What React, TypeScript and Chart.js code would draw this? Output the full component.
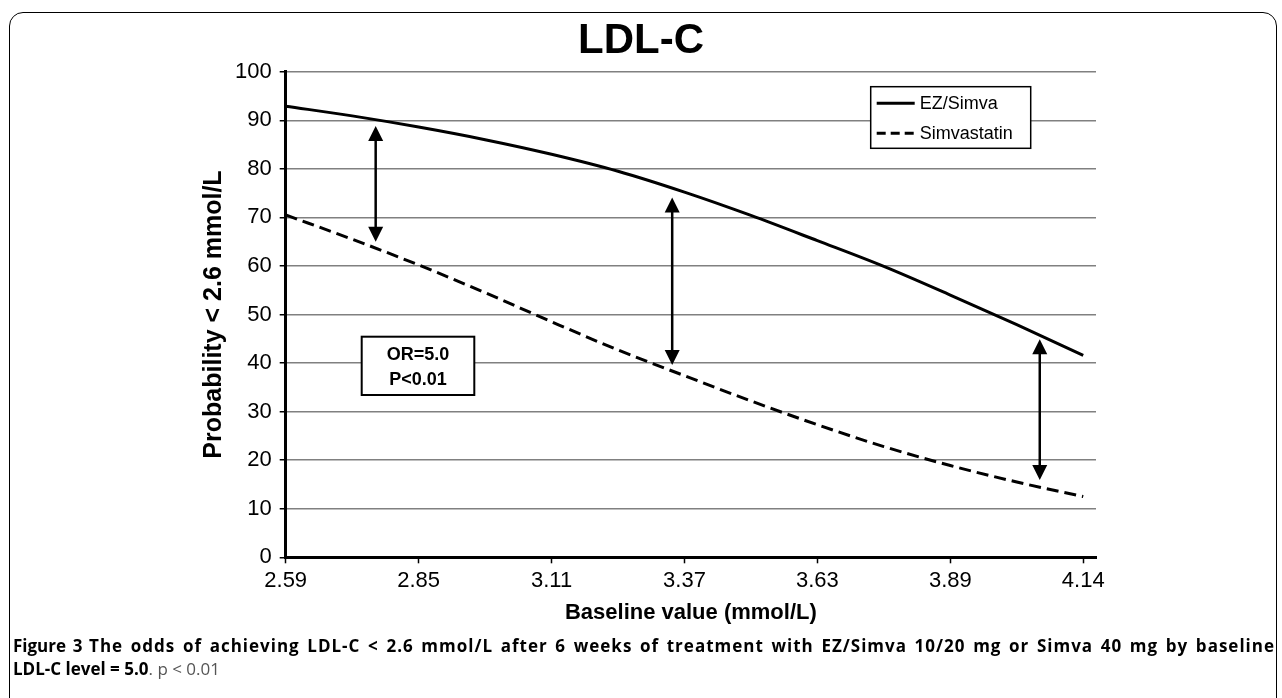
import React, { useEffect, useRef } from 'react';
import { Chart, registerables } from 'chart.js';

Chart.register(...registerables);

// ---------- data ----------
const CHART_TITLE = 'LDL-C';
const X_TITLE = 'Baseline value (mmol/L)';
const Y_TITLE = 'Probability < 2.6 mmol/L';
const X_TICK_VALUES = [2.59, 2.85, 3.11, 3.37, 3.63, 3.89, 4.15];
const X_TICK_LABELS = ['2.59', '2.85', '3.11', '3.37', '3.63', '3.89', '4.14'];
const BASELINE = [2.59, 2.72, 2.85, 2.98, 3.11, 3.24, 3.37, 3.5, 3.63, 3.76, 3.89, 4.02, 4.15];
const EZ_SIMVA = [92.9, 90.9, 88.6, 86.0, 83.0, 79.5, 75.2, 70.4, 65.2, 59.9, 54.0, 47.9, 41.6];
const SIMVASTATIN = [70.5, 65.5, 60.2, 54.5, 48.5, 42.7, 37.4, 32.2, 27.3, 22.8, 18.9, 15.5, 12.5];
const SERIES_NAMES = ['EZ/Simva', 'Simvastatin'];
const ARROW_X = [2.766, 3.346, 4.065];
const ARROW_TOP = [88.8, 74.1, 44.9];
const ARROW_BOTTOM = [65.0, 39.6, 15.9];
const STATS_LINES = ['OR=5.0', 'P<0.01'];

const FONT = "'Liberation Sans', Arial, Helvetica, sans-serif";

const overlayPlugin = {
  id: 'overlay',
  afterDatasetsDraw(chart: any) {
    const { ctx, chartArea: a, scales } = chart;
    const x = scales.x;
    const y = scales.y;
    ctx.save();
    // double-headed arrows
    ctx.strokeStyle = '#000';
    ctx.fillStyle = '#000';
    ctx.lineWidth = 2.5;
    const hl = 15;
    const hw = 7.5;
    ARROW_X.forEach((xv, i) => {
      const px = x.getPixelForValue(xv);
      const t = y.getPixelForValue(ARROW_TOP[i]);
      const b = y.getPixelForValue(ARROW_BOTTOM[i]);
      ctx.beginPath();
      ctx.moveTo(px, t + hl - 1);
      ctx.lineTo(px, b - hl + 1);
      ctx.stroke();
      ctx.beginPath();
      ctx.moveTo(px, t);
      ctx.lineTo(px - hw, t + hl);
      ctx.lineTo(px + hw, t + hl);
      ctx.closePath();
      ctx.fill();
      ctx.beginPath();
      ctx.moveTo(px, b);
      ctx.lineTo(px - hw, b - hl);
      ctx.lineTo(px + hw, b - hl);
      ctx.closePath();
      ctx.fill();
    });

    // stats box
    const sx = a.left + 76;
    const sy = a.top + 265;
    const sw = 112.6;
    const sh = 58.3;
    ctx.fillStyle = '#fff';
    ctx.fillRect(sx, sy, sw, sh);
    ctx.lineWidth = 2;
    ctx.strokeStyle = '#000';
    ctx.strokeRect(sx, sy, sw, sh);
    ctx.fillStyle = '#000';
    ctx.font = `bold 18px ${FONT}`;
    ctx.textAlign = 'center';
    ctx.textBaseline = 'middle';
    ctx.fillText(STATS_LINES[0], sx + sw / 2, sy + 18.5);
    ctx.fillText(STATS_LINES[1], sx + sw / 2, sy + 43.5);

    // legend
    const lx = a.left + 585;
    const ly = a.top + 15;
    const lw = 160;
    const lh = 61.6;
    ctx.fillStyle = '#fff';
    ctx.fillRect(lx, ly, lw, lh);
    ctx.lineWidth = 1.5;
    ctx.strokeStyle = '#000';
    ctx.strokeRect(lx, ly, lw, lh);
    const rows = [ly + 16.6, ly + 46.6];
    chart.data.datasets.forEach((ds: any, i: number) => {
      ctx.beginPath();
      ctx.lineWidth = 3;
      ctx.setLineDash(i === 0 ? [] : [9, 5]);
      ctx.moveTo(lx + 6, rows[i]);
      ctx.lineTo(lx + 44, rows[i]);
      ctx.stroke();
      ctx.setLineDash([]);
      ctx.fillStyle = '#000';
      ctx.font = `18px ${FONT}`;
      ctx.textAlign = 'left';
      ctx.textBaseline = 'middle';
      ctx.fillText(ds.label, lx + 49, rows[i] + 1);
    });

    // chart title, centred on the whole figure
    ctx.fillStyle = '#000';
    ctx.font = `bold 42px ${FONT}`;
    ctx.textAlign = 'center';
    ctx.textBaseline = 'middle';
    ctx.fillText(CHART_TITLE, chart.width / 2, 41);
    ctx.restore();
  },
};

export default function App() {
  const canvasRef = useRef<HTMLCanvasElement | null>(null);

  useEffect(() => {
    if (!canvasRef.current) return;
    Chart.defaults.font.family = FONT;
    const chart = new Chart(canvasRef.current, {
      type: 'line',
      data: {
        datasets: [
          {
            label: SERIES_NAMES[0],
            data: BASELINE.map((b, i) => ({ x: b, y: EZ_SIMVA[i] })),
            borderColor: '#000',
            borderWidth: 3,
            pointRadius: 0,
            cubicInterpolationMode: 'monotone',
          },
          {
            label: SERIES_NAMES[1],
            data: BASELINE.map((b, i) => ({ x: b, y: SIMVASTATIN[i] })),
            borderColor: '#000',
            borderWidth: 3,
            borderDash: [12, 6],
            pointRadius: 0,
            cubicInterpolationMode: 'monotone',
          },
        ],
      },
      options: {
        animation: false,
        responsive: true,
        maintainAspectRatio: false,
        layout: { padding: { left: 199, right: 186, top: 71.7, bottom: 13.8 } },
        plugins: {
          legend: { display: false },
          tooltip: { enabled: false },
          title: { display: false },
        },
        scales: {
          x: {
            type: 'linear',
            min: 2.59,
            max: 4.175,
            afterBuildTicks: (scale: any) => {
              scale.ticks = X_TICK_VALUES.map((v) => ({ value: v }));
            },
            afterFit: (scale: any) => {
              scale.height = 68.9;
            },
            ticks: {
              color: '#000',
              font: { size: 22, family: FONT },
              padding: 4,
              maxRotation: 0,
              autoSkip: false,
              callback: (_v: any, i: number) => X_TICK_LABELS[i],
            },
            grid: {
              display: true,
              drawOnChartArea: false,
              drawTicks: true,
              tickLength: 6,
              tickColor: '#000',
              tickWidth: 1.5,
            },
            border: { display: true, color: '#000', width: 3 },
            title: {
              display: true,
              text: X_TITLE,
              color: '#000',
              font: { size: 22, weight: 'bold', family: FONT, lineHeight: 1.2 },
              padding: 0,
            },
          },
          y: {
            min: 0,
            max: 100,
            afterFit: (scale: any) => {
              scale.width = 86.7;
            },
            ticks: {
              stepSize: 10,
              color: '#000',
              font: { size: 22, family: FONT },
              padding: 8,
            },
            grid: {
              color: '#808080',
              lineWidth: 1.5,
              drawTicks: true,
              tickLength: 6,
              tickColor: '#000',
              tickWidth: 1.5,
            },
            border: { display: true, color: '#000', width: 3 },
            title: {
              display: true,
              text: Y_TITLE,
              color: '#000',
              font: { size: 25, weight: 'bold', family: FONT, lineHeight: 1.2 },
              padding: 0,
            },
          },
        },
      },
      plugins: [overlayPlugin],
    } as any);
    return () => chart.destroy();
  }, []);

  return (
    <div>
      <div
        style={{
          position: 'absolute',
          left: 9,
          top: 12,
          width: 1268,
          height: 720,
          border: '1.5px solid #000',
          borderRadius: 14,
          boxSizing: 'border-box',
        }}
      />
      <div style={{ position: 'absolute', left: 0, top: 0, width: 1282, height: 640 }}>
        <canvas ref={canvasRef} />
      </div>
      <div
        style={{
          position: 'absolute',
          left: 13,
          top: 634,
          width: 1262,
          fontFamily: "'Open Sans', 'Noto Sans', sans-serif",
          fontSize: 17,
          lineHeight: '23px',
          color: '#000',
        }}
      >
        <div style={{ textAlign: 'justify', textAlignLast: 'justify', fontWeight: 700, whiteSpace: 'nowrap' }}>
          <span style={{ fontWeight: 700 }}>Figure 3</span>{' '}
          <span style={{ letterSpacing: '1px' }}>
            The odds of achieving LDL-C &lt; 2.6 mmol/L after 6 weeks of treatment with EZ/Simva 10/20 mg or Simva
            40 mg by baseline
          </span>
        </div>
        <div>
          <span style={{ fontWeight: 700 }}>LDL-C level = 5.0</span>
          <span style={{ color: '#555', fontWeight: 400 }}>. p &lt; 0.01</span>
        </div>
      </div>
    </div>
  );
}
